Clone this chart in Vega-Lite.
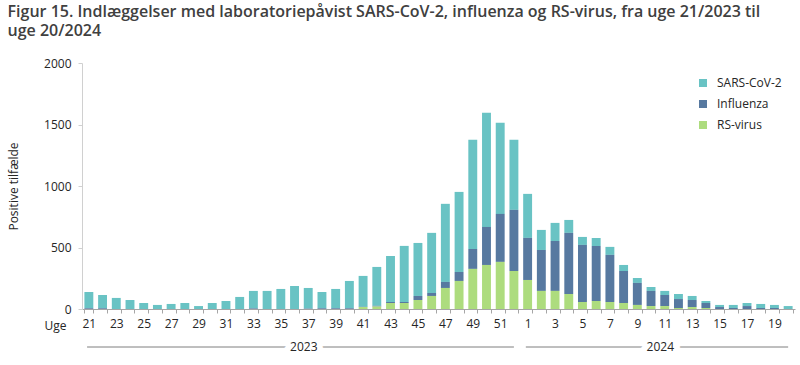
{
  "$schema": "https://vega.github.io/schema/vega-lite/v6.json",
  "width": 713,
  "height": 246,
  "padding": {"left": 7, "top": 4, "right": 5, "bottom": 5},
  "background": "white",
  "config": {
    "view": {"stroke": null},
    "axis": {"labelFont": "Open Sans", "titleFont": "Open Sans", "labelColor": "#262626", "titleColor": "#262626", "labelFontSize": 12, "titleFontSize": 12, "titleFontWeight": "normal", "domainColor": "#a6a6a6", "tickColor": "#a6a6a6"}
  },
  "title": {
    "text": ["Figur 15. Indlæggelser med laboratoriepåvist SARS-CoV-2, influenza og RS-virus, fra uge 21/2023 til", "uge 20/2024"],
    "anchor": "start",
    "font": "Open Sans",
    "fontSize": 16,
    "fontWeight": 600,
    "color": "#404040",
    "lineHeight": 19,
    "offset": 18
  },
  "datasets": {
    "cases": [
      {"w": 21, "v": "SARS-CoV-2", "k": 3, "n": 132}, {"w": 21, "v": "Influenza", "k": 2, "n": 6},
      {"w": 22, "v": "SARS-CoV-2", "k": 3, "n": 108}, {"w": 22, "v": "Influenza", "k": 2, "n": 6},
      {"w": 23, "v": "SARS-CoV-2", "k": 3, "n": 90},
      {"w": 24, "v": "SARS-CoV-2", "k": 3, "n": 73},
      {"w": 25, "v": "SARS-CoV-2", "k": 3, "n": 49},
      {"w": 26, "v": "SARS-CoV-2", "k": 3, "n": 33},
      {"w": 27, "v": "SARS-CoV-2", "k": 3, "n": 41},
      {"w": 28, "v": "SARS-CoV-2", "k": 3, "n": 49},
      {"w": 29, "v": "SARS-CoV-2", "k": 3, "n": 24},
      {"w": 30, "v": "SARS-CoV-2", "k": 3, "n": 49},
      {"w": 31, "v": "SARS-CoV-2", "k": 3, "n": 65},
      {"w": 32, "v": "SARS-CoV-2", "k": 3, "n": 98},
      {"w": 33, "v": "SARS-CoV-2", "k": 3, "n": 142}, {"w": 33, "v": "Influenza", "k": 2, "n": 5},
      {"w": 34, "v": "SARS-CoV-2", "k": 3, "n": 147},
      {"w": 35, "v": "SARS-CoV-2", "k": 3, "n": 163},
      {"w": 36, "v": "SARS-CoV-2", "k": 3, "n": 187},
      {"w": 37, "v": "SARS-CoV-2", "k": 3, "n": 168}, {"w": 37, "v": "Influenza", "k": 2, "n": 3},
      {"w": 38, "v": "SARS-CoV-2", "k": 3, "n": 132}, {"w": 38, "v": "Influenza", "k": 2, "n": 6},
      {"w": 39, "v": "SARS-CoV-2", "k": 3, "n": 157}, {"w": 39, "v": "Influenza", "k": 2, "n": 6},
      {"w": 40, "v": "SARS-CoV-2", "k": 3, "n": 222}, {"w": 40, "v": "Influenza", "k": 2, "n": 6},
      {"w": 41, "v": "SARS-CoV-2", "k": 3, "n": 251}, {"w": 41, "v": "Influenza", "k": 2, "n": 2}, {"w": 41, "v": "RS-virus", "k": 1, "n": 16},
      {"w": 42, "v": "SARS-CoV-2", "k": 3, "n": 316}, {"w": 42, "v": "Influenza", "k": 2, "n": 6}, {"w": 42, "v": "RS-virus", "k": 1, "n": 20},
      {"w": 43, "v": "SARS-CoV-2", "k": 3, "n": 374}, {"w": 43, "v": "Influenza", "k": 2, "n": 8}, {"w": 43, "v": "RS-virus", "k": 1, "n": 49},
      {"w": 44, "v": "SARS-CoV-2", "k": 3, "n": 456}, {"w": 44, "v": "Influenza", "k": 2, "n": 8}, {"w": 44, "v": "RS-virus", "k": 1, "n": 49},
      {"w": 45, "v": "SARS-CoV-2", "k": 3, "n": 431}, {"w": 45, "v": "Influenza", "k": 2, "n": 33}, {"w": 45, "v": "RS-virus", "k": 1, "n": 73},
      {"w": 46, "v": "SARS-CoV-2", "k": 3, "n": 489}, {"w": 46, "v": "Influenza", "k": 2, "n": 24}, {"w": 46, "v": "RS-virus", "k": 1, "n": 106},
      {"w": 47, "v": "SARS-CoV-2", "k": 3, "n": 635}, {"w": 47, "v": "Influenza", "k": 2, "n": 49}, {"w": 47, "v": "RS-virus", "k": 1, "n": 171},
      {"w": 48, "v": "SARS-CoV-2", "k": 3, "n": 651}, {"w": 48, "v": "Influenza", "k": 2, "n": 73}, {"w": 48, "v": "RS-virus", "k": 1, "n": 228},
      {"w": 49, "v": "SARS-CoV-2", "k": 3, "n": 888}, {"w": 49, "v": "Influenza", "k": 2, "n": 162}, {"w": 49, "v": "RS-virus", "k": 1, "n": 326},
      {"w": 50, "v": "SARS-CoV-2", "k": 3, "n": 928}, {"w": 50, "v": "Influenza", "k": 2, "n": 309}, {"w": 50, "v": "RS-virus", "k": 1, "n": 358},
      {"w": 51, "v": "SARS-CoV-2", "k": 3, "n": 741}, {"w": 51, "v": "Influenza", "k": 2, "n": 390}, {"w": 51, "v": "RS-virus", "k": 1, "n": 383},
      {"w": 52, "v": "SARS-CoV-2", "k": 3, "n": 570}, {"w": 52, "v": "Influenza", "k": 2, "n": 497}, {"w": 52, "v": "RS-virus", "k": 1, "n": 309},
      {"w": 1, "v": "SARS-CoV-2", "k": 3, "n": 358}, {"w": 1, "v": "Influenza", "k": 2, "n": 342}, {"w": 1, "v": "RS-virus", "k": 1, "n": 236},
      {"w": 2, "v": "SARS-CoV-2", "k": 3, "n": 163}, {"w": 2, "v": "Influenza", "k": 2, "n": 333}, {"w": 2, "v": "RS-virus", "k": 1, "n": 147},
      {"w": 3, "v": "SARS-CoV-2", "k": 3, "n": 147}, {"w": 3, "v": "Influenza", "k": 2, "n": 406}, {"w": 3, "v": "RS-virus", "k": 1, "n": 147},
      {"w": 4, "v": "SARS-CoV-2", "k": 3, "n": 105}, {"w": 4, "v": "Influenza", "k": 2, "n": 497}, {"w": 4, "v": "RS-virus", "k": 1, "n": 122},
      {"w": 5, "v": "SARS-CoV-2", "k": 3, "n": 65}, {"w": 5, "v": "Influenza", "k": 2, "n": 464}, {"w": 5, "v": "RS-virus", "k": 1, "n": 57},
      {"w": 6, "v": "SARS-CoV-2", "k": 3, "n": 65}, {"w": 6, "v": "Influenza", "k": 2, "n": 448}, {"w": 6, "v": "RS-virus", "k": 1, "n": 65},
      {"w": 7, "v": "SARS-CoV-2", "k": 3, "n": 65}, {"w": 7, "v": "Influenza", "k": 2, "n": 383}, {"w": 7, "v": "RS-virus", "k": 1, "n": 57},
      {"w": 8, "v": "SARS-CoV-2", "k": 3, "n": 49}, {"w": 8, "v": "Influenza", "k": 2, "n": 260}, {"w": 8, "v": "RS-virus", "k": 1, "n": 49},
      {"w": 9, "v": "SARS-CoV-2", "k": 3, "n": 40}, {"w": 9, "v": "Influenza", "k": 2, "n": 179}, {"w": 9, "v": "RS-virus", "k": 1, "n": 33},
      {"w": 10, "v": "SARS-CoV-2", "k": 3, "n": 32}, {"w": 10, "v": "Influenza", "k": 2, "n": 123}, {"w": 10, "v": "RS-virus", "k": 1, "n": 24},
      {"w": 11, "v": "SARS-CoV-2", "k": 3, "n": 33}, {"w": 11, "v": "Influenza", "k": 2, "n": 90}, {"w": 11, "v": "RS-virus", "k": 1, "n": 24},
      {"w": 12, "v": "SARS-CoV-2", "k": 3, "n": 41}, {"w": 12, "v": "Influenza", "k": 2, "n": 73}, {"w": 12, "v": "RS-virus", "k": 1, "n": 8},
      {"w": 13, "v": "SARS-CoV-2", "k": 3, "n": 33}, {"w": 13, "v": "Influenza", "k": 2, "n": 57}, {"w": 13, "v": "RS-virus", "k": 1, "n": 16},
      {"w": 14, "v": "SARS-CoV-2", "k": 3, "n": 16}, {"w": 14, "v": "Influenza", "k": 2, "n": 41}, {"w": 14, "v": "RS-virus", "k": 1, "n": 8},
      {"w": 15, "v": "SARS-CoV-2", "k": 3, "n": 17}, {"w": 15, "v": "Influenza", "k": 2, "n": 16},
      {"w": 16, "v": "SARS-CoV-2", "k": 3, "n": 25}, {"w": 16, "v": "Influenza", "k": 2, "n": 8},
      {"w": 17, "v": "SARS-CoV-2", "k": 3, "n": 25}, {"w": 17, "v": "Influenza", "k": 2, "n": 24},
      {"w": 18, "v": "SARS-CoV-2", "k": 3, "n": 33}, {"w": 18, "v": "Influenza", "k": 2, "n": 8},
      {"w": 19, "v": "SARS-CoV-2", "k": 3, "n": 25}, {"w": 19, "v": "Influenza", "k": 2, "n": 8},
      {"w": 20, "v": "SARS-CoV-2", "k": 3, "n": 24}
    ],
    "years": [
      {"year": "2023", "s": 21, "e": 52, "m": 37},
      {"year": "2024", "s": 1, "e": 20, "m": 11}
    ]
  },
  "layer": [
    {
      "data": {"name": "cases"},
      "mark": {"type": "bar"},
      "encoding": {
        "x": {
          "field": "w", "type": "ordinal",
          "scale": {"domain": [21, 22, 23, 24, 25, 26, 27, 28, 29, 30, 31, 32, 33, 34, 35, 36, 37, 38, 39, 40, 41, 42, 43, 44, 45, 46, 47, 48, 49, 50, 51, 52, 1, 2, 3, 4, 5, 6, 7, 8, 9, 10, 11, 12, 13, 14, 15, 16, 17, 18, 19, 20], "paddingInner": 0.35, "paddingOuter": 0.175},
          "axis": {
            "title": "Uge", "labelAngle": 0, "tickBand": "extent", "tickSize": 4, "labelPadding": 5,
            "labelExpr": "datum.value % 2 == 1 ? datum.label : ''",
            "titleX": -16, "titleY": 16, "titleAlign": "right", "titleBaseline": "middle"
          }
        },
        "y": {
          "field": "n", "type": "quantitative",
          "scale": {"domain": [0, 2000], "nice": false},
          "axis": {"title": "Positive tilfælde", "values": [0, 500, 1000, 1500, 2000], "format": "d", "grid": false, "tickSize": 4, "labelPadding": 7, "titlePadding": 23, "domainColor": "#d0d0d0", "tickColor": "#d0d0d0"}
        },
        "color": {
          "field": "v", "type": "nominal",
          "scale": {"domain": ["SARS-CoV-2", "Influenza", "RS-virus"], "range": ["#69c3c4", "#5779a0", "#addc7e"]},
          "legend": {
            "title": null, "orient": "none", "legendX": 615, "legendY": 14,
            "symbolType": "square", "symbolSize": 64, "symbolStrokeWidth": 0,
            "labelFont": "Open Sans", "labelFontSize": 12, "labelColor": "#262626", "rowPadding": 9, "labelOffset": 8
          }
        },
        "order": {"field": "k", "type": "quantitative", "sort": "ascending"}
      }
    },
    {
      "data": {"name": "years"},
      "mark": {"type": "rule", "color": "#7f7f7f", "strokeWidth": 1},
      "encoding": {
        "x": {"field": "s", "type": "ordinal", "bandPosition": 0.3},
        "x2": {"field": "e"},
        "y": {"datum": -309}
      }
    },
    {
      "data": {"name": "years"},
      "mark": {"type": "text", "color": "white", "stroke": "white", "strokeWidth": 12, "fontSize": 12, "font": "Open Sans"},
      "encoding": {
        "x": {"field": "m", "type": "ordinal", "bandPosition": 0},
        "y": {"datum": -309},
        "text": {"field": "year"}
      }
    },
    {
      "data": {"name": "years"},
      "mark": {"type": "text", "color": "#262626", "fontSize": 12, "font": "Open Sans"},
      "encoding": {
        "x": {"field": "m", "type": "ordinal", "bandPosition": 0},
        "y": {"datum": -309},
        "text": {"field": "year"}
      }
    }
  ]
}
